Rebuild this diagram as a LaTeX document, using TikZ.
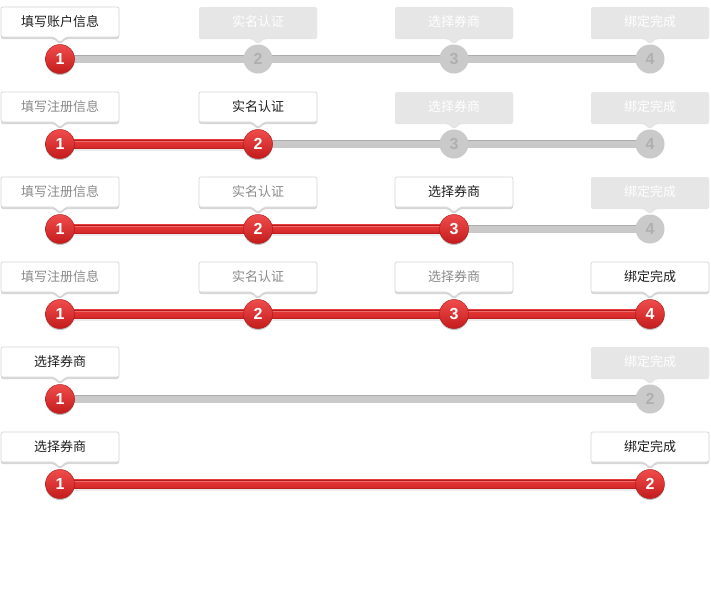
\documentclass[tikz,border=0pt]{standalone}
\usepackage{fontspec}
\setmainfont{Liberation Sans}
\newfontfamily\cjk{Noto Sans CJK SC}
\usetikzlibrary{shadows}
\definecolor{boxborder}{HTML}{D6D6D6}
\definecolor{todofill}{HTML}{E6E6E6}
\definecolor{donetext}{HTML}{8A8A8A}
\definecolor{curtext}{HTML}{1E1E1E}
\definecolor{graybar}{HTML}{C9C9C9}
\definecolor{graybaredge}{HTML}{ACACAC}
\definecolor{redtop}{HTML}{E83A3A}
\definecolor{redbot}{HTML}{D22626}
\definecolor{rededge}{HTML}{B31C1C}
\definecolor{redhi}{HTML}{F26A6A}
\definecolor{dottop}{HTML}{F04C4C}
\definecolor{dotbot}{HTML}{C41C1C}
\definecolor{graydot}{HTML}{CACACA}
\definecolor{graynum}{HTML}{AFAFAF}
\tikzset{
  x=1pt,y=-1pt,
  tagcur/.style={fill=white, draw=boxborder, line width=0.7pt, rounded corners=2pt,
    drop shadow={shadow xshift=0pt, shadow yshift=-2pt, opacity=0.16, fill=black}},
  tagdone/.style={tagcur},
  tagtodo/.style={fill=todofill, rounded corners=2pt,
    drop shadow={shadow xshift=0pt, shadow yshift=-2pt, opacity=0.10, fill=black}},
  lbl/.style={font=\cjk\fontsize{13}{13}\selectfont, inner sep=0pt},
  lblcur/.style={lbl, text=curtext},
  lbldone/.style={lbl, text=donetext},
  lbltodo/.style={lbl, text=white},
  dotbase/.style={circle, minimum size=29pt, inner sep=0pt,
    font=\bfseries\fontsize{16}{16}\selectfont},
  dotred/.style={dotbase, top color=dottop, bottom color=dotbot, draw=rededge, line width=0.5pt,
    text=white, drop shadow={shadow xshift=0pt, shadow yshift=-1.5pt, opacity=0.25, fill=black}},
  dotgray/.style={dotbase, fill=graydot, text=graynum},
}
\newcommand\tagbox[5]{%
  \path[tag#4] (#2-59,#3-52) -- (#2+59,#3-52) -- (#2+59,#3-22) -- (#2+6,#3-22) -- (#2,#3-16.5) -- (#2-6,#3-22) -- (#2-59,#3-22) -- cycle;
  \node[lbl#4] (#1) at (#2,#3-37) {#5};
}
\newcommand\stepdot[4]{\node[dot#3] (#1) at (#2) {#4};}
\newcommand\graybarr[2]{%
  \fill[graybar] ([yshift=4pt]#1) rectangle ([yshift=-4pt]#2);
  \draw[graybaredge, line width=1pt] ([yshift=3.5pt]#1) -- ([yshift=3.5pt]#2);
}
\newcommand\redbarr[2]{%
  \fill[black, opacity=0.08] ([yshift=-4.5pt]#1) rectangle ([yshift=-6.5pt]#2);
  \shade[top color=redtop, bottom color=redbot] ([yshift=4.5pt]#1) rectangle ([yshift=-4.5pt]#2);
  \draw[rededge, line width=1pt] ([yshift=4pt]#1) -- ([yshift=4pt]#2);
  \draw[redhi, line width=0.8pt] ([yshift=2.4pt]#1) -- ([yshift=2.4pt]#2);
  \draw[rededge, line width=0.6pt, opacity=0.7] ([yshift=-4.2pt]#1) -- ([yshift=-4.2pt]#2);
}
\begin{document}
\begin{tikzpicture}
\fill[white] (0,0) rectangle (711,595);
\useasboundingbox (0,0) rectangle (711,595);
% ---------- Row 1
\coordinate (p11) at (60,59); \coordinate (p12) at (258,59);
\coordinate (p13) at (454,59); \coordinate (p14) at (650,59);
\graybarr{p11}{p14}
\tagbox{t11}{60}{59}{cur}{填写账户信息}
\tagbox{t12}{258}{59}{todo}{实名认证}
\tagbox{t13}{454}{59}{todo}{选择券商}
\tagbox{t14}{650}{59}{todo}{绑定完成}
\stepdot{d11}{p11}{red}{1}
\stepdot{d12}{p12}{gray}{2}
\stepdot{d13}{p13}{gray}{3}
\stepdot{d14}{p14}{gray}{4}
% ---------- Row 2
\coordinate (p21) at (60,144); \coordinate (p22) at (258,144);
\coordinate (p23) at (454,144); \coordinate (p24) at (650,144);
\graybarr{p22}{p24}
\redbarr{p21}{p22}
\tagbox{t21}{60}{144}{done}{填写注册信息}
\tagbox{t22}{258}{144}{cur}{实名认证}
\tagbox{t23}{454}{144}{todo}{选择券商}
\tagbox{t24}{650}{144}{todo}{绑定完成}
\stepdot{d21}{p21}{red}{1}
\stepdot{d22}{p22}{red}{2}
\stepdot{d23}{p23}{gray}{3}
\stepdot{d24}{p24}{gray}{4}
% ---------- Row 3
\coordinate (p31) at (60,229); \coordinate (p32) at (258,229);
\coordinate (p33) at (454,229); \coordinate (p34) at (650,229);
\graybarr{p33}{p34}
\redbarr{p31}{p33}
\tagbox{t31}{60}{229}{done}{填写注册信息}
\tagbox{t32}{258}{229}{done}{实名认证}
\tagbox{t33}{454}{229}{cur}{选择券商}
\tagbox{t34}{650}{229}{todo}{绑定完成}
\stepdot{d31}{p31}{red}{1}
\stepdot{d32}{p32}{red}{2}
\stepdot{d33}{p33}{red}{3}
\stepdot{d34}{p34}{gray}{4}
% ---------- Row 4
\coordinate (p41) at (60,314); \coordinate (p42) at (258,314);
\coordinate (p43) at (454,314); \coordinate (p44) at (650,314);
\redbarr{p41}{p44}
\tagbox{t41}{60}{314}{done}{填写注册信息}
\tagbox{t42}{258}{314}{done}{实名认证}
\tagbox{t43}{454}{314}{done}{选择券商}
\tagbox{t44}{650}{314}{cur}{绑定完成}
\stepdot{d41}{p41}{red}{1}
\stepdot{d42}{p42}{red}{2}
\stepdot{d43}{p43}{red}{3}
\stepdot{d44}{p44}{red}{4}
% ---------- Row 5
\coordinate (p51) at (60,399); \coordinate (p52) at (650,399);
\graybarr{p51}{p52}
\tagbox{t51}{60}{399}{cur}{选择券商}
\tagbox{t52}{650}{399}{todo}{绑定完成}
\stepdot{d51}{p51}{red}{1}
\stepdot{d52}{p52}{gray}{2}
% ---------- Row 6
\coordinate (p61) at (60,484); \coordinate (p62) at (650,484);
\redbarr{p61}{p62}
\tagbox{t61}{60}{484}{cur}{选择券商}
\tagbox{t62}{650}{484}{cur}{绑定完成}
\stepdot{d61}{p61}{red}{1}
\stepdot{d62}{p62}{red}{2}
\end{tikzpicture}
\end{document}
